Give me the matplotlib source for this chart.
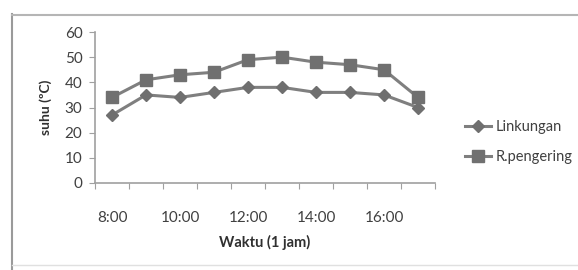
import matplotlib
matplotlib.use("Agg")
import matplotlib.pyplot as plt
from matplotlib.lines import Line2D

hours = ["8:00", "9:00", "10:00", "11:00", "12:00", "13:00", "14:00", "15:00", "16:00", "17:00"]
linkungan = [27, 35, 34, 36, 38, 38, 36, 36, 35, 30]
pengering = [34, 41, 43, 44, 49, 50, 48, 47, 45, 34]
yticks = [0, 10, 20, 30, 40, 50, 60]

plt.rcParams['font.family'] = ['Lato', 'DejaVu Sans']

fig = plt.figure(figsize=(5.78, 2.70), dpi=100)
fig.patch.set_facecolor('white')

# outer frame of the chart area
fig.add_artist(Line2D([12/578, 12/578], [0, 1 - 14/270], transform=fig.transFigure, color='#9a9a9a', lw=1.5))
fig.add_artist(Line2D([12/578, 1], [1 - 15/270, 1 - 15/270], transform=fig.transFigure, color='#b5b5b5', lw=1.5))
fig.add_artist(Line2D([12/578, 1], [1 - 265/270, 1 - 265/270], transform=fig.transFigure, color='#e0e0e0', lw=1.0))

ax = fig.add_axes([95/578, 1 - 183/270, 340/578, 151/270])
x = list(range(len(hours)))
gray_line = '#7f7f7f'
ax.plot(x, linkungan, color=gray_line, lw=2.2, marker='D', markersize=6,
        markerfacecolor='#6f6f6f', markeredgecolor='#6f6f6f', label='Linkungan')
ax.plot(x, pengering, color=gray_line, lw=2.2, marker='s', markersize=8.5,
        markerfacecolor='#707070', markeredgecolor='#707070', label='R.pengering')

ax.set_xlim(-0.5, len(hours) - 0.5)
ax.set_ylim(0, 60)
ax.set_yticks(yticks)
ax.set_yticklabels([str(v) for v in yticks], fontsize=11, color='#404040')

# category axis: ticks at boundaries, labels every other category
ax.set_xticks([i - 0.5 for i in range(len(hours) + 1)])
ax.set_xticklabels([])
ax.set_xticks(x[::2], minor=True)
ax.set_xticklabels(hours[::2], minor=True, fontsize=11, color='#404040')
ax.tick_params(axis='x', which='minor', length=0, pad=20)
ax.tick_params(axis='x', which='major', length=4, color='#a0a0a0', direction='out')
ax.tick_params(axis='y', length=4, color='#a0a0a0', direction='out', pad=5)

for s in ['top', 'right']:
    ax.spines[s].set_visible(False)
for s in ['left', 'bottom']:
    ax.spines[s].set_color('#a0a0a0')
    ax.spines[s].set_linewidth(1.2)

ax.set_ylabel('suhu (ºC)', fontsize=10, fontweight='bold', color='#303030', labelpad=9)
ax.set_xlabel('Waktu (1 jam)', fontsize=10.5, fontweight='bold', color='#303030', labelpad=7)

fig.legend(loc='center left', bbox_to_anchor=(452/578, 1 - 142/270), frameon=False,
           fontsize=10.5, handlelength=1.8, handletextpad=0.3, labelspacing=1.1,
           labelcolor='#404040')

fig.savefig('out.png', dpi=100, facecolor='white')
